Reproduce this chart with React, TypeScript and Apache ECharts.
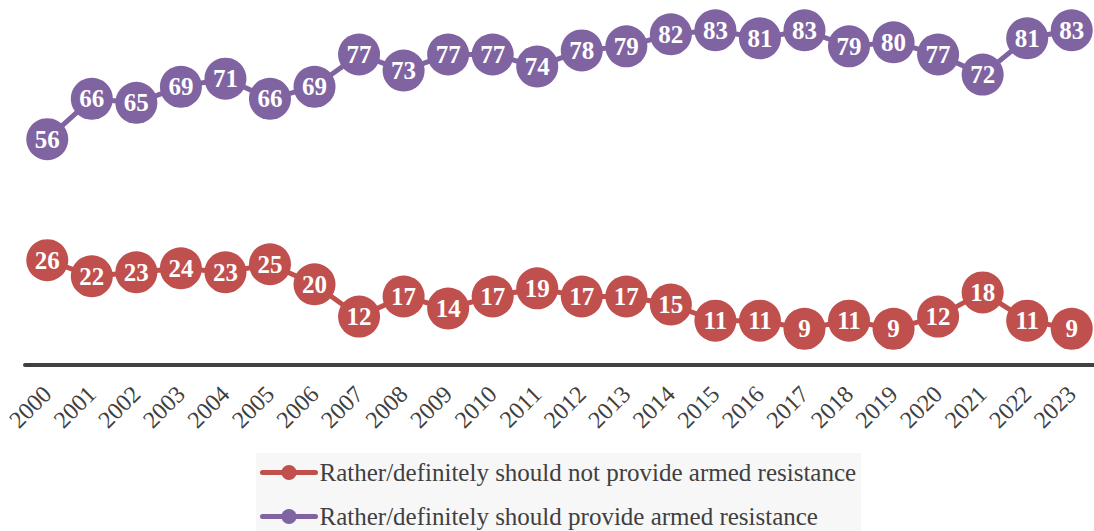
import React, { useEffect, useRef } from "react";
import * as echarts from "echarts";

const years = ["2000","2001","2002","2003","2004","2005","2006","2007","2008","2009","2010","2011","2012","2013","2014","2015","2016","2017","2018","2019","2020","2021","2022","2023"];
const shouldNot = [26,22,23,24,23,25,20,12,17,14,17,19,17,17,15,11,11,9,11,9,12,18,11,9];
const should = [56,66,65,69,71,66,69,77,73,77,77,74,78,79,82,83,81,83,79,80,77,72,81,83];
const nameNot = "Rather/definitely should not provide armed resistance";
const nameShould = "Rather/definitely should provide armed resistance";

const FONT = "'Liberation Serif', 'Times New Roman', serif";

export default function App() {
  const ref = useRef<HTMLDivElement>(null);
  useEffect(() => {
    const chart = echarts.init(ref.current!, null, { renderer: "svg" });
    const mkSeries = (name: string, data: number[], color: string) => ({
      name,
      type: "line",
      data,
      symbol: "circle",
      symbolSize: 42,
      clip: false,
      lineStyle: { color, width: 5 },
      itemStyle: { color, borderWidth: 0 },
      label: {
        show: true,
        position: "inside",
        color: "#ffffff",
        fontFamily: FONT,
        fontWeight: "bold",
        fontSize: 25,
      },
    });
    chart.setOption({
      animation: false,
      backgroundColor: "#ffffff",
      grid: { left: 25, right: -1, top: 2, bottom: 166, containLabel: false },
      xAxis: {
        type: "category",
        data: years,
        boundaryGap: true,
        axisLine: { show: true, lineStyle: { color: "#404040", width: 4 } },
        axisTick: { show: false },
        axisLabel: {
          rotate: 45,
          margin: 25,
          color: "#404040",
          fontFamily: FONT,
          fontSize: 24,
          interval: 0,
        },
      },
      yAxis: {
        type: "value",
        min: 0,
        max: 90,
        show: false,
        splitLine: { show: false },
      },
      legend: {
        orient: "vertical",
        left: 256,
        top: 453,
        height: 120,
        backgroundColor: "#f7f7f7",
        padding: [7, 5, 8, 4],
        itemWidth: 53,
        itemHeight: 19,
        itemGap: 19,
        lineStyle: { width: 5, cap: "round" },
        textStyle: { color: "#404040", fontFamily: FONT, fontSize: 25, padding: [0, 0, 0, -1] },
        data: [nameNot, nameShould],
      },
      series: [
        mkSeries(nameNot, shouldNot, "#C0504D"),
        mkSeries(nameShould, should, "#8064A2"),
      ],
    });
    return () => chart.dispose();
  }, []);
  return (
    <div
      ref={ref}
      style={{ position: "fixed", left: 0, top: 0, width: 1094, height: 531 }}
    />
  );
}
